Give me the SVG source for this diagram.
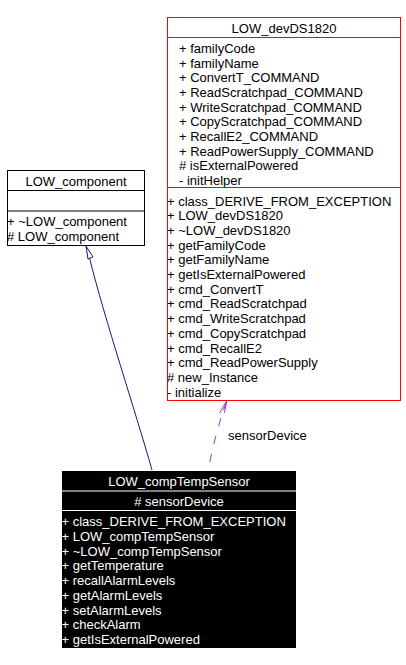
<svg xmlns="http://www.w3.org/2000/svg" width="406" height="665" viewBox="0 0 406 665">
<style>
text{font-family:"Liberation Sans",Arial,sans-serif;font-size:13px;fill:#000}
.w{fill:#fff}
.c{text-anchor:middle}
.box{fill:#fff;stroke:#000;stroke-width:1}
.red{fill:#fff;stroke:#ff0000;stroke-width:1}
</style>
<rect width="406" height="665" fill="#fff"/>
<g id="connectors">
<path d="M152,470 C135,410 105,320 89.5,258" fill="none" stroke="#191970" stroke-width="1"/>
<polygon points="86,246 88,259 93,257" fill="#fff" stroke="#191970" stroke-width="1"/>
<path d="M208,471 C212,450 217,430 223.5,410" fill="none" stroke="#9a32cd" stroke-width="1" stroke-dasharray="8.5,10" stroke-dashoffset="9.5"/>
<path d="M223.5,410 L226.7,401" fill="none" stroke="#9a32cd" stroke-width="1"/>
<polyline points="219.5,413 226.7,401 224.5,412.8" fill="none" stroke="#9a32cd" stroke-width="1"/>
<text x="228" y="440">sensorDevice</text>
</g>
<g id="LOW_devDS1820">
<rect class="red" x="167.5" y="17.5" width="233" height="383"/>
<line x1="167.5" y1="37.5" x2="400.5" y2="37.5" stroke="#ff0000"/>
<line x1="167.5" y1="187.5" x2="400.5" y2="187.5" stroke="#ff0000"/>
<text class="c" x="284" y="33">LOW_devDS1820</text>
<text x="179" y="53">+ familyCode</text>
<text x="179" y="67.7">+ familyName</text>
<text x="179" y="82.3">+ ConvertT_COMMAND</text>
<text x="179" y="97">+ ReadScratchpad_COMMAND</text>
<text x="179" y="111.7">+ WriteScratchpad_COMMAND</text>
<text x="179" y="126.3">+ CopyScratchpad_COMMAND</text>
<text x="179" y="141">+ RecallE2_COMMAND</text>
<text x="179" y="155.7">+ ReadPowerSupply_COMMAND</text>
<text x="179" y="170.3"># isExternalPowered</text>
<text x="179" y="185">- initHelper</text>
<text x="167" y="205.5">+ class_DERIVE_FROM_EXCEPTION</text>
<text x="167" y="220.2">+ LOW_devDS1820</text>
<text x="167" y="234.9">+ ~LOW_devDS1820</text>
<text x="167" y="249.6">+ getFamilyCode</text>
<text x="167" y="264.3">+ getFamilyName</text>
<text x="167" y="279">+ getIsExternalPowered</text>
<text x="167" y="293.7">+ cmd_ConvertT</text>
<text x="167" y="308.4">+ cmd_ReadScratchpad</text>
<text x="167" y="323.1">+ cmd_WriteScratchpad</text>
<text x="167" y="337.8">+ cmd_CopyScratchpad</text>
<text x="167" y="352.5">+ cmd_RecallE2</text>
<text x="167" y="367.2">+ cmd_ReadPowerSupply</text>
<text x="167" y="381.9"># new_Instance</text>
<text x="167" y="396.6">- initialize</text>
</g>
<g id="LOW_component">
<rect class="box" x="7.5" y="170.5" width="137" height="75"/>
<line x1="7.5" y1="190.5" x2="144.5" y2="190.5" stroke="#000"/>
<line x1="7.5" y1="211" x2="144.5" y2="211" stroke="#000"/>
<text class="c" x="76" y="186">LOW_component</text>
<text x="7" y="226">+ ~LOW_component</text>
<text x="7" y="241"># LOW_component</text>
</g>
<g id="LOW_compTempSensor">
<rect x="62" y="471" width="234" height="177" fill="#000"/>
<line x1="62" y1="491" x2="296" y2="491" stroke="#fff"/>
<line x1="62" y1="510.5" x2="296" y2="510.5" stroke="#fff"/>
<text class="c w" x="179" y="486">LOW_compTempSensor</text>
<text class="c w" x="179" y="505.7"># sensorDevice</text>
<text class="w" x="61.5" y="526">+ class_DERIVE_FROM_EXCEPTION</text>
<text class="w" x="61.5" y="540.75">+ LOW_compTempSensor</text>
<text class="w" x="61.5" y="555.5">+ ~LOW_compTempSensor</text>
<text class="w" x="61.5" y="570.25">+ getTemperature</text>
<text class="w" x="61.5" y="585">+ recallAlarmLevels</text>
<text class="w" x="61.5" y="599.75">+ getAlarmLevels</text>
<text class="w" x="61.5" y="614.5">+ setAlarmLevels</text>
<text class="w" x="61.5" y="629.25">+ checkAlarm</text>
<text class="w" x="61.5" y="644">+ getIsExternalPowered</text>
</g>
</svg>
